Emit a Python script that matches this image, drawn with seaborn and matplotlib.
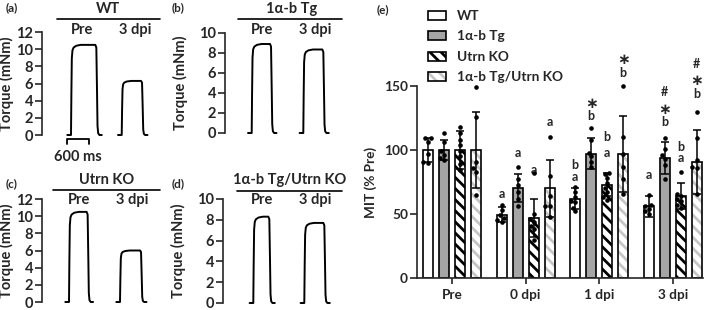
import numpy as np
import pandas as pd
import matplotlib
matplotlib.use("Agg")
import matplotlib.pyplot as plt
from matplotlib.patches import Patch, Rectangle
import seaborn as sns

# ---------------- data: panels (a)-(d), torque traces ----------------
trace_panels = ["WT", "1α-b Tg", "Utrn KO", "1α-b Tg/Utrn KO"]
trace_letters = ["(a)", "(b)", "(c)", "(d)"]
trace_conditions = ["Pre", "3 dpi"]
peak_pre = [10.5, 8.9, 10.5, 8.3]          # mNm
peak_3dpi = [6.3, 8.35, 6.0, 7.7]          # mNm
onset_pre = [783, 721, 729, 818]           # ms
offset_pre = [1485, 1261, 1250, 1269]      # ms
onset_3dpi = [2152, 2114, 2106, 2195]      # ms
offset_3dpi = [2719, 2673, 2692, 2754]     # ms
trace_ymax = [12, 10, 12, 10]
# pulse edges (ms relative to edge, fraction of plateau)
rise_t = [-100, 0, 10, 22, 40, 70, 140, 260]
rise_f = [0.0, 0.0, 0.45, 0.85, 0.94, 0.97, 0.99, 1.0]
fall_t = [-45, -18, 0, 14, 32, 65, 130]
fall_f = [1.0, 0.97, 0.5, 0.1, 0.02, 0.0, 0.0]
scalebar_start = 676   # ms
scalebar_len = 600     # ms

# ---------------- data: panel (e), MIT ----------------
days = ["Pre", "0 dpi", "1 dpi", "3 dpi"]
genotypes = ["WT", "1α-b Tg", "Utrn KO", "1α-b Tg/Utrn KO"]
mean_wt = [100, 49.5, 62, 56]
mean_tg = [100, 70, 97, 94]
mean_ko = [100, 47, 73, 64]
mean_tgko = [100, 70, 97, 91]
sd_wt = [9, 6, 8, 8]
sd_tg = [8, 11, 12, 12.5]
sd_ko = [15, 15, 9, 10]
sd_tgko = [30, 22, 29.5, 25]
pts_wt = [[109, 109, 106, 97, 91, 90], [57, 53, 49, 47, 45, 44],
          [71, 67, 63, 60, 59, 55, 52], [65, 57, 56, 54, 52, 50]]
pts_tg = [[113, 106, 99, 96, 94, 92], [87, 77, 73, 67, 62, 56],
          [117, 108, 98, 95, 91, 87], [109, 101, 96, 93, 88, 77]]
pts_ko = [[118, 113, 108, 104, 99, 95, 89, 84], [82, 50, 46, 44, 41, 38, 30],
          [82, 81, 78, 74, 70, 67, 63, 61], [83, 66, 64, 62, 60, 57, 55]]
pts_tgko = [[149, 126, 91, 86, 83, 65], [110, 80, 64, 56, 56, 48],
            [150, 110, 97, 87, 77, 66], [130, 109, 92, 87, 86, 66]]
ann_day = ["0 dpi", "0 dpi", "0 dpi", "0 dpi",
           "1 dpi", "1 dpi", "1 dpi", "1 dpi", "1 dpi", "1 dpi", "1 dpi", "1 dpi",
           "3 dpi", "3 dpi", "3 dpi", "3 dpi", "3 dpi", "3 dpi", "3 dpi", "3 dpi", "3 dpi"]
ann_geno = [0, 1, 2, 3,
            0, 0, 1, 1, 2, 2, 3, 3,
            0, 1, 1, 1, 2, 2, 3, 3, 3]
ann_text = ["a", "a", "a", "a",
            "b", "a", "∗", "b", "b", "a", "∗", "b",
            "a", "#", "∗", "b", "b", "a", "#", "∗", "b"]
ann_y = [66, 97.5, 84.5, 122,
         88.5, 79, 137.5, 126.5, 110.5, 97.5, 172, 160.5,
         80.5, 145, 133, 121.5, 102.5, 93.5, 167, 155.5, 144]

# ---------------- style ----------------
sns.set_style("ticks")
plt.rcParams["font.family"] = ["Lato", "DejaVu Sans"]
plt.rcParams["font.weight"] = "bold"
plt.rcParams["axes.labelweight"] = "bold"
plt.rcParams["hatch.linewidth"] = 2.0
plt.rcParams["axes.linewidth"] = 1.2

W, H = 709, 310
fig = plt.figure(figsize=(W / 100, H / 100), dpi=100)


def fx(x):
    return x / W


def fy(y):
    return 1 - y / H


# panel geometry in pixels: spine x, y of zero, y of top, y-label x
boxes = [(42, 135, 32, 14), (225, 133, 33, 188), (42, 302, 199, 14), (223, 303, 199, 186)]
# header layout: line y, x0, x1, title x, title y, sub y, pre x, dpi x, label x, label y
heads = [(19, 57, 160, 108, 9, 30, 82, 135, 12, 8),
         (19, 238, 342, 292, 9, 30, 262, 315, 178, 8),
         (190, 53, 160, 107, 180, 200, 79, 132, 12, 184),
         (191, 237, 342, 290, 180, 200, 262, 315, 178, 184)]
FS_SMALL = 10.5
FS_E = 9.8
FS_ANN = 9

for i in range(4):
    sx, y0, yt, ylx = boxes[i]
    ax = fig.add_axes([fx(sx), fy(y0), 123 / W, (y0 - yt) / H])
    rows = []
    for cond, on, off, pk in [("Pre", onset_pre[i], offset_pre[i], peak_pre[i]),
                              ("3 dpi", onset_3dpi[i], offset_3dpi[i], peak_3dpi[i])]:
        for t, f in zip(rise_t, rise_f):
            rows.append((cond, on + t, pk * f))
        for t, f in zip(fall_t, fall_f):
            rows.append((cond, off + t, pk * f))
    df = pd.DataFrame(rows, columns=["cond", "t", "torque"])
    sns.lineplot(data=df, x="t", y="torque", units="cond", estimator=None,
                 color="black", lw=1.4, sort=False, ax=ax)
    for l in ax.lines:
        l.set_clip_on(False)
        l.set_solid_joinstyle("round")
    ax.set_xlim(0, 123 * 27)
    ax.set_ylim(0, trace_ymax[i])
    ax.set_yticks(np.arange(0, trace_ymax[i] + 1, 2))
    ax.set_xticks([])
    ax.set_xlabel("")
    ax.set_ylabel("Torque (mNm)", fontsize=FS_SMALL, fontweight="bold")
    ax.yaxis.set_label_coords((ylx - sx) / 123, 0.5)
    ax.tick_params(axis="y", length=5, width=1.2, pad=1.5, labelsize=FS_SMALL)
    for lab in ax.get_yticklabels():
        lab.set_fontweight("bold")
    sns.despine(ax=ax, bottom=True)
    ax.spines["left"].set_linewidth(1.2)
    ax.patch.set_alpha(0)

    ly, x0, x1, tx, ty, sy, px_, dx_, lx, lyy = heads[i]
    fig.add_artist(plt.Line2D([fx(x0), fx(x1)], [fy(ly), fy(ly)], color="black", lw=1.2))
    fig.text(fx(tx), fy(ty), trace_panels[i], ha="center", va="center",
             fontsize=FS_SMALL, fontweight="bold")
    fig.text(fx(px_), fy(sy), trace_conditions[0], ha="center", va="center",
             fontsize=FS_SMALL, fontweight="bold")
    fig.text(fx(dx_), fy(sy), trace_conditions[1], ha="center", va="center",
             fontsize=FS_SMALL, fontweight="bold")
    fig.text(fx(lx), fy(lyy), trace_letters[i], ha="center", va="center",
             fontsize=8.5, fontweight="bold")

    if i == 0:
        s0, s1 = scalebar_start, scalebar_start + scalebar_len
        ax.plot([s0, s0, s1, s1], [-1.05, -0.42, -0.42, -1.05], color="black",
                lw=1.3, clip_on=False)
        ax.text((s0 + s1) / 2, -2.55, f"{scalebar_len} ms", ha="center", va="center",
                fontsize=FS_SMALL, fontweight="bold", clip_on=False)

# ---------------- panel (e) ----------------
axe = fig.add_axes([fx(417), fy(278), (703 - 417) / W, (278 - 86) / H])
means = [mean_wt, mean_tg, mean_ko, mean_tgko]
sds = [sd_wt, sd_tg, sd_ko, sd_tgko]
pts = [pts_wt, pts_tg, pts_ko, pts_tgko]
dfm = pd.DataFrame([(d, g, means[gi][di]) for gi, g in enumerate(genotypes)
                    for di, d in enumerate(days)], columns=["day", "geno", "mit"])
colors = {"WT": "white", "1α-b Tg": "#a5a5a5", "Utrn KO": "white",
          "1α-b Tg/Utrn KO": "white"}
sns.barplot(data=dfm, x="day", y="mit", hue="geno", order=days, hue_order=genotypes,
            palette=colors, width=0.87, gap=0.375, errorbar=None, edgecolor="black",
            linewidth=1.2, legend=False, saturation=1, ax=axe)
bars = sorted([p for p in axe.patches], key=lambda p: p.get_x())
centers = {}
for k, p in enumerate(bars):
    di, gi = k // 4, k % 4
    centers[(days[di], gi)] = p.get_x() + p.get_width() / 2
    p.set_zorder(2)
    if gi == 2:
        p.set_hatch("\\\\\\")
        p.set_edgecolor("black")
    if gi == 3:
        p.set_hatch("\\\\\\")
        p.set_edgecolor("#c6c6c6")
        p.set_linewidth(0)
        axe.add_patch(Rectangle((p.get_x(), 0), p.get_width(), p.get_height(),
                                fill=False, edgecolor="black", lw=1.2, zorder=2.1))

# error bars
for gi in range(4):
    xs = [centers[(d, gi)] for d in days]
    axe.errorbar(xs, means[gi], yerr=sds[gi], fmt="none", ecolor="black",
                 elinewidth=1.1, capsize=3, capthick=1.1, zorder=3)

# individual points
prow = []
for gi in range(4):
    for di, d in enumerate(days):
        for v in pts[gi][di]:
            prow.append((centers[(d, gi)], v))
dfp = pd.DataFrame(prow, columns=["x", "mit"])
sns.swarmplot(data=dfp, x="x", y="mit", native_scale=True, color="black", size=3.3,
              ax=axe, zorder=4)
for c in axe.collections:
    c.set_clip_on(False)

# significance letters
for d, gi, t, y in zip(ann_day, ann_geno, ann_text, ann_y):
    if t == "∗":
        axe.text(centers[(d, gi)], y, t, ha="center", va="center_baseline",
                 fontsize=11, fontweight="bold", family="DejaVu Sans", clip_on=False)
    else:
        axe.text(centers[(d, gi)], y, t, ha="center", va="center", fontsize=FS_ANN,
                 fontweight="bold", clip_on=False)

axe.set_xlim(-0.475, 3.41)
axe.set_ylim(0, 150)
axe.set_xticks(range(4))
axe.set_xticklabels(days, fontsize=FS_E, fontweight="bold")
axe.set_yticks([0, 50, 100, 150])
axe.set_yticklabels(["0", "50", "100", "150"], fontsize=FS_E, fontweight="bold")
axe.set_xlabel("")
axe.set_ylabel("MIT (% Pre)", fontsize=FS_E, fontweight="bold")
axe.yaxis.set_label_coords((377 - 417) / 286, 0.5)
axe.tick_params(axis="y", length=5, width=1.2, pad=1.5)
axe.tick_params(axis="x", length=4, width=1.2, pad=4)
sns.despine(ax=axe)
axe.patch.set_alpha(0)

fig.text(fx(383), fy(10), "(e)", ha="center", va="center", fontsize=8.5, fontweight="bold")

# legend
handles = [Patch(facecolor="white", edgecolor="black", lw=1.2),
           Patch(facecolor="#a5a5a5", edgecolor="black", lw=1.2),
           Patch(facecolor="white", edgecolor="black", hatch="\\\\\\", lw=1.2),
           (Patch(facecolor="white", edgecolor="#c6c6c6", hatch="\\\\\\", lw=0),
            Patch(fill=False, edgecolor="black", lw=1.2))]
fig.legend(handles, genotypes, loc="upper left", bbox_to_anchor=(fx(428), fy(10)),
           frameon=False, handlelength=1.35, handleheight=0.65,
           handletextpad=0.75, labelspacing=0.62, borderpad=0, borderaxespad=0,
           prop={"weight": "bold", "size": FS_E})

fig.savefig("out.png", dpi=100)
